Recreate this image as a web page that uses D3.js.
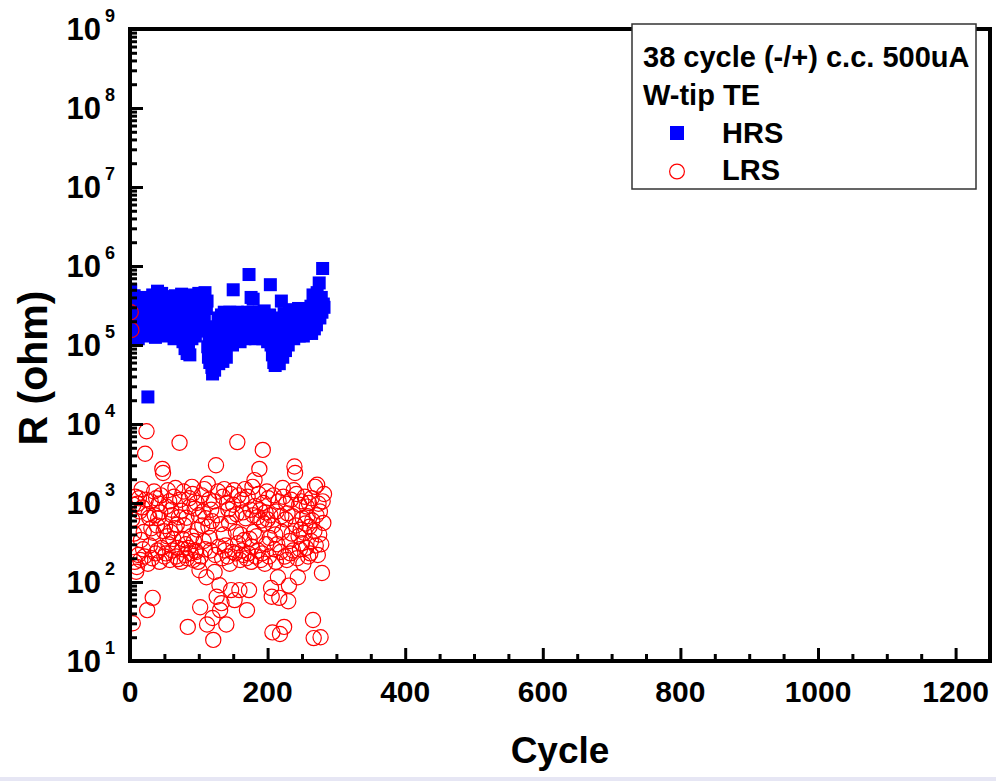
<!DOCTYPE html>
<html><head><meta charset="utf-8">
<script src="https://cdn.jsdelivr.net/npm/d3@7"></script>
<style>
html,body{margin:0;padding:0;background:#fff;}
svg{display:block;}
text{font-family:"Liberation Sans",Arial,sans-serif;font-weight:bold;fill:#000;}
</style></head>
<body>
<svg id="chart" width="996" height="781"></svg>
<script>
// ---- data ----
const hrsR = [
5.0e5,2.4e5,1.5e5,3.6e5,2.0e5,4.2e5,1.3e5,2.8e5,3.3e5,1.8e5,
2.6e5,1.2e5,3.9e5,2.2e5,1.6e5,3.0e5,2.5e5,1.4e5,4.0e5,2.1e5,
1.7e5,3.2e5,2.7e5,1.3e5,3.5e5,2.2e4,2.4e5,1.9e5,3.8e5,1.5e5,
2.9e5,2.2e5,4.3e5,1.6e5,3.1e5,2.0e5,1.25e5,3.6e5,2.6e5,4.8e5,
1.8e5,2.3e5,3.4e5,1.4e5,2.7e5,4.5e5,1.9e5,3.0e5,2.2e5,1.6e5,
3.7e5,2.5e5,1.3e5,4.1e5,2.1e5,2.9e5,1.7e5,3.3e5,2.4e5,1.5e5,
3.9e5,2.0e5,2.6e5,1.2e5,3.5e5,4.2e5,1.8e5,2.3e5,3.0e5,1.4e5,
2.8e5,3.8e5,1.6e5,2.2e5,4.4e5,1.9e5,1.1e5,3.2e5,2.5e5,9.0e4,
1.7e5,3.6e5,7.8e4,2.1e5,1.0e5,3.0e5,7.5e4,1.5e5,2.4e5,1.2e5,
3.4e5,1.8e5,4.3e5,2.0e5,1.3e5,2.7e5,3.8e5,1.6e5,2.2e5,4.5e5,
1.9e5,3.1e5,2.4e5,4.0e5,1.5e5,2.8e5,3.5e5,2.1e5,4.6e5,1.7e5,
2.9e5,3.6e5,9.5e4,7.0e4,1.2e5,6.0e4,8.0e4,1.5e5,5.2e4,4.3e4,
6.5e4,1.1e5,4.8e4,9.0e4,1.6e5,7.5e4,1.3e5,2.2e5,5.8e4,1.0e5,
1.8e5,8.5e4,2.4e5,1.2e5,6.2e4,1.6e5,2.6e5,1.0e5,2.0e5,7.0e4,
1.4e5,2.3e5,1.1e5,1.9e5,2.6e5,1.3e5,1.7e5,2.2e5,1.0e5,5.0e5,
1.5e5,2.5e5,1.2e5,2.1e5,1.8e5,2.6e5,1.4e5,1.9e5,2.3e5,1.1e5,
1.6e5,2.5e5,2.0e5,1.3e5,2.4e5,1.7e5,1.2e5,2.2e5,1.9e5,1.5e5,
2.6e5,1.4e5,7.8e5,2.0e5,1.7e5,4.0e5,1.3e5,2.3e5,3.8e5,1.6e5,
2.1e5,1.2e5,2.5e5,1.8e5,1.4e5,2.2e5,1.3e5,2.6e5,1.7e5,2.0e5,
1.5e5,2.4e5,1.2e5,1.9e5,2.7e5,1.4e5,2.1e5,1.6e5,2.3e5,1.1e5,
1.8e5,1.3e5,2.4e5,5.8e5,1.0e5,1.6e5,7.5e4,2.0e5,6.0e4,1.2e5,
5.5e4,1.5e5,9.0e4,2.2e5,6.5e4,1.3e5,5.8e4,1.9e5,8.0e4,3.6e5,
1.1e5,7.0e4,1.6e5,2.5e5,1.2e5,8.5e4,1.8e5,1.4e5,2.3e5,1.0e5,
1.7e5,2.6e5,1.3e5,1.9e5,2.8e5,1.5e5,2.2e5,1.2e5,2.7e5,1.6e5,
2.0e5,1.4e5,2.6e5,1.8e5,2.9e5,1.3e5,2.3e5,1.7e5,2.5e5,1.5e5,
2.1e5,1.3e5,2.8e5,1.6e5,2.4e5,1.9e5,1.4e5,2.7e5,2.0e5,1.5e5,
2.6e5,1.8e5,3.1e5,1.4e5,2.3e5,4.3e5,2.0e5,1.6e5,3.4e5,2.5e5,
1.8e5,4.6e5,2.7e5,3.2e5,6.1e5,2.2e5,3.0e5,4.0e5,2.6e5,9.3e5,
3.3e5,3.0e5
];
const lrsR = [
2.6e5,1.55e5,620,30,950,410,180,1200,135,155,
980,220,1150,780,190,340,1500,880,260,430,
210,4200,1100,8100,44,170,720,650,290,1050,
480,200,63,420,1400,700,230,1150,520,250,
640,980,180,760,1250,270,2700,2400,440,210,
510,230,900,380,1450,300,1050,190,430,820,
700,250,350,1200,480,1550,210,530,270,195,
660,5800,1100,180,800,260,350,1400,520,220,
300,650,200,27,270,1150,900,230,380,1600,
1300,190,330,850,250,240,1000,460,180,700,
141,48,210,1250,520,780,330,1500,260,640,
115,29,1750,500,1100,360,250,820,590,35,
18.5,1050,134,220,3000,65,700,1400,280,91,
44,540,54,200,1200,400,1500,250,290,29,
1000,210,830,560,170,1300,79,680,240,950,
1450,59,230,430,720,5900,310,1250,79,190,
400,1100,250,760,220,340,1500,640,200,44,
1200,230,79,350,820,180,280,1600,700,430,
1950,920,210,380,660,250,1300,2700,810,190,
600,230,4700,1000,550,170,760,300,1400,620,
1150,210,360,700,84,65,23,520,1250,260,
400,180,780,300,115,1050,63,22,240,680,
430,1550,1200,27,210,620,980,190,740,57,
90,330,230,1100,410,680,250,1450,2900,2400,
520,1300,200,115,380,950,260,460,1050,310,
640,170,420,1200,550,270,900,680,210,1000,
500,230,330,1150,600,33,19.5,440,1600,290,
700,1700,220,980,400,780,20,300,130,1050,
560,1300
];
const xTicks = [0,200,400,600,800,1000,1200];
const yExponents = [1,2,3,4,5,6,7,8,9];
const legendTitle = ["38 cycle (-/+) c.c. 500uA","W-tip TE"];
const seriesNames = ["HRS","LRS"];
const xLabel = "Cycle", yLabel = "R (ohm)";

// ---- layout ----
const L = 130, R = 990, T = 29, B = 661;
const svg = d3.select("#chart");
const x = d3.scaleLinear().domain([0,1250]).range([L,R]);
const y = d3.scaleLog().domain([1e1,1e9]).range([B,T]);

// bottom scan strip
svg.append("rect").attr("x",0).attr("y",777).attr("width",996).attr("height",4).attr("fill","#e6e6f4");

// clip
svg.append("clipPath").attr("id","plot").append("rect")
  .attr("x",L).attr("y",T).attr("width",R-L).attr("height",B-T);

const g = svg.append("g").attr("clip-path","url(#plot)");
const hrs = hrsR.map((v,i)=>({c:i+1,v}));
const lrs = lrsR.map((v,i)=>({c:i+1,v}));
const sq = 13;
g.selectAll("rect.h").data(hrs).join("rect").attr("class","h")
  .attr("x",d=>x(d.c)-sq/2).attr("y",d=>y(d.v)-sq/2)
  .attr("width",sq).attr("height",sq).attr("fill","#0000ff");
g.selectAll("circle.l").data(lrs).join("circle").attr("class","l")
  .attr("cx",d=>x(d.c)).attr("cy",d=>y(d.v)).attr("r",7.6)
  .attr("fill","none").attr("stroke","#ff0000").attr("stroke-width",1.2);

// minor ticks
const minorY = [];
for (let e=1;e<9;e++) for (let k=2;k<10;k++) minorY.push(k*Math.pow(10,e));
const minorX = d3.range(50,1250,50).filter(v=>v%200!==0);

// axes
const axL = d3.axisLeft(y).tickValues(yExponents.map(e=>Math.pow(10,e))).tickSize(-13).tickFormat("");
const axLm = d3.axisLeft(y).tickValues(minorY).tickSize(-7).tickFormat("");
const axB = d3.axisBottom(x).tickValues(xTicks).tickSize(-13).tickFormat("");
const axBm = d3.axisBottom(x).tickValues(minorX).tickSize(-7).tickFormat("");
[[axL,`translate(${L},0)`],[axLm,`translate(${L},0)`],[axB,`translate(0,${B})`],[axBm,`translate(0,${B})`]]
 .forEach(([a,t])=>{
   const ga = svg.append("g").attr("transform",t).call(a);
   ga.select(".domain").remove();
   ga.selectAll(".tick line").attr("stroke","#000").attr("stroke-width",3);
 });

// frame
svg.append("rect").attr("x",L).attr("y",T).attr("width",R-L).attr("height",B-T)
  .attr("fill","none").attr("stroke","#000").attr("stroke-width",4);

// y tick labels
yExponents.forEach(e=>{
  const yy = y(Math.pow(10,e));
  svg.append("text").attr("x",101).attr("y",yy+11).attr("text-anchor","end")
    .attr("font-size",31).text("10");
  svg.append("text").attr("x",105).attr("y",yy-7).attr("text-anchor","start")
    .attr("font-size",18).text(e);
});
// x tick labels
xTicks.forEach(v=>{
  svg.append("text").attr("x",x(v)).attr("y",702).attr("text-anchor","middle")
    .attr("font-size",30).text(v);
});
// axis titles
svg.append("text").attr("x",(L+R)/2).attr("y",763).attr("text-anchor","middle")
  .attr("font-size",37).text(xLabel);
svg.append("text").attr("transform","translate(47,368) rotate(-90)").attr("text-anchor","middle")
  .attr("font-size",41).text(yLabel);

// legend
const lg = svg.append("g");
lg.append("rect").attr("x",632).attr("y",24).attr("width",344).attr("height",165)
  .attr("fill","#fff").attr("stroke","#333").attr("stroke-width",1.5);
lg.append("text").attr("x",643).attr("y",67).attr("font-size",29).text(legendTitle[0]);
lg.append("text").attr("x",643).attr("y",105).attr("font-size",29).text(legendTitle[1]);
lg.append("rect").attr("x",670).attr("y",126).attr("width",14).attr("height",14).attr("fill","#0000ff");
lg.append("text").attr("x",722).attr("y",143).attr("font-size",29).text(seriesNames[0]);
lg.append("circle").attr("cx",677).attr("cy",171.5).attr("r",7.4).attr("fill","#fff")
  .attr("stroke","#ff0000").attr("stroke-width",1.2);
lg.append("text").attr("x",722).attr("y",180).attr("font-size",29).text(seriesNames[1]);
</script>
</body></html>
